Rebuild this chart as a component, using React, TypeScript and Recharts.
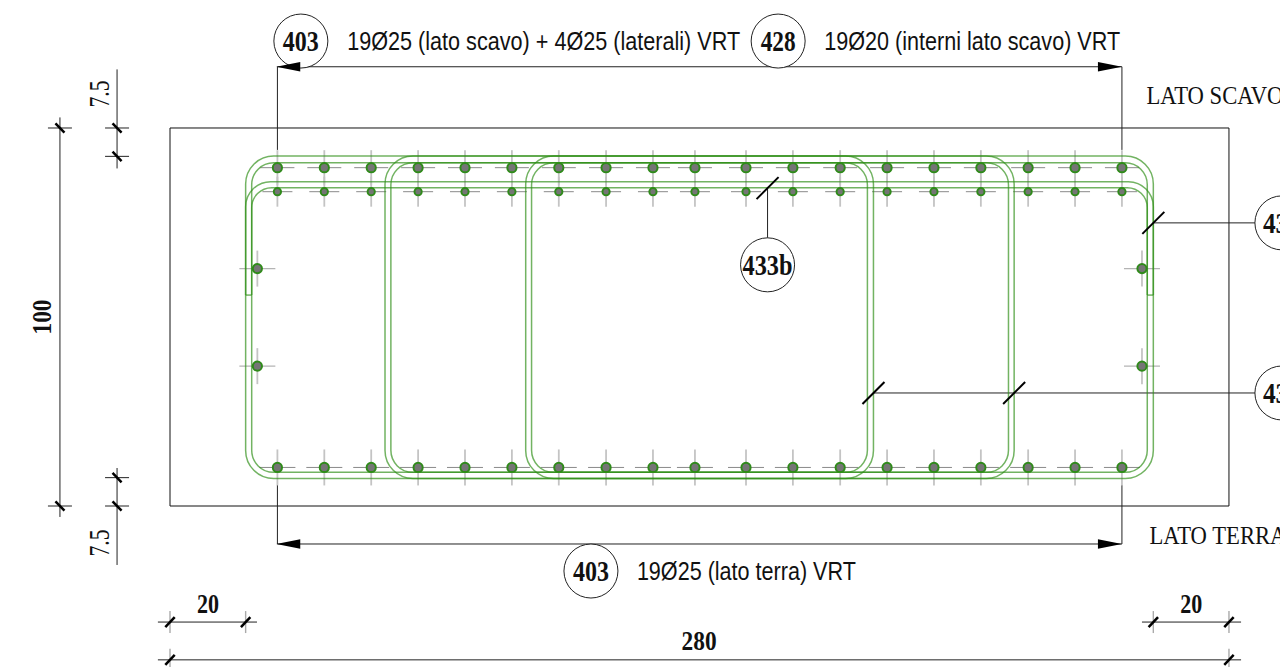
import { Scatter, ScatterChart, XAxis, YAxis } from "recharts";

type Pt = { x: number; y: number; text?: string };

// section geometry, in cm from the bottom left corner of the wall panel
const barColumns = [28.4, 40.8, 53.2, 65.6, 78, 90.4, 102.8, 115.3, 127.7, 138.8, 152.3, 164.7, 177.2, 189.6, 202, 214.4, 226.9, 239.3, 251.7];
const topRowY = 89.5;
const secondRowY = 83.15;
const bottomRowY = 10.2;
const sideBars: Pt[] = [
  { x: 23.1, y: 62.8 },
  { x: 23.1, y: 37 },
  { x: 257, y: 62.8 },
  { x: 257, y: 37 },
];

const tiesOuter = [[20, 260], [56.85, 223.2], [94.05, 186]];
const tiesInner = [[21.6, 258.4], [58.4, 221.7], [95.6, 184.4]];
const hooks: Pt[][] = [
  [{ x: 20, y: 55.8 }, { x: 21.6, y: 55.8 }],
  [{ x: 258.4, y: 55.8 }, { x: 260, y: 55.8 }],
];

const panel: Pt[] = [
  { x: 0, y: 0 },
  { x: 280, y: 0 },
  { x: 280, y: 100 },
  { x: 0, y: 100 },
  { x: 0, y: 0 },
];

const dimLines: Pt[][] = [
  [{ x: 28.4, y: 94.2 }, { x: 28.4, y: 116.2 }],
  [{ x: 251.7, y: 94.2 }, { x: 251.7, y: 116.2 }],
  [{ x: 28.4, y: 116.2 }, { x: 251.7, y: 116.2 }],
  [{ x: 28.4, y: 5.55 }, { x: 28.4, y: -10.05 }],
  [{ x: 251.7, y: 5.55 }, { x: 251.7, y: -10.05 }],
  [{ x: 28.4, y: -10.05 }, { x: 251.7, y: -10.05 }],
  [{ x: -29.1, y: 102.8 }, { x: -29.1, y: -2.9 }],
  [{ x: -14, y: 115.5 }, { x: -14, y: 89.3 }],
  [{ x: -14, y: 10.05 }, { x: -14, y: -15.6 }],
  [{ x: -3.2, y: -30.7 }, { x: 23, y: -30.7 }],
  [{ x: 257, y: -30.7 }, { x: 283.2, y: -30.7 }],
  [{ x: -3.2, y: -40.7 }, { x: 283.2, y: -40.7 }],
  [{ x: 260, y: 74.9 }, { x: 287, y: 74.9 }],
  [{ x: 186, y: 29.9 }, { x: 287, y: 29.9 }],
  [{ x: 158, y: 84.1 }, { x: 158, y: 70.6 }],
];

const verticalDimTicks: Pt[] = [
  { x: -29.1, y: 100 },
  { x: -29.1, y: 0 },
  { x: -14, y: 100 },
  { x: -14, y: 92.5 },
  { x: -14, y: 7.5 },
  { x: -14, y: 0 },
];
const horizontalDimTicks: Pt[] = [
  { x: 0, y: -30.7 },
  { x: 20, y: -30.7 },
  { x: 260, y: -30.7 },
  { x: 280, y: -30.7 },
  { x: 0, y: -40.7 },
  { x: 280, y: -40.7 },
];
const leaderTicks: Pt[] = [
  { x: 260, y: 74.9 },
  { x: 186, y: 29.9 },
  { x: 223.2, y: 29.9 },
  { x: 158, y: 84.1 },
];
const arrowsLeft: Pt[] = [{ x: 28.1, y: 116.2 }, { x: 28.1, y: -10.05 }];
const arrowsRight: Pt[] = [{ x: 251.7, y: 116.2 }, { x: 251.7, y: -10.05 }];

const markers: Pt[] = [
  { x: 34.6, y: 123, text: "403" },
  { x: 160.8, y: 123, text: "428" },
  { x: 111.3, y: -17.2, text: "403" },
  { x: 158, y: 63.8, text: "433b" },
  { x: 294, y: 74.9, text: "433" },
  { x: 294, y: 29.9, text: "433" },
];
const barNotes: Pt[] = [
  { x: 98.8, y: 123, text: "19Ø25 (lato scavo) + 4Ø25 (laterali) VRT" },
  { x: 212.1, y: 123, text: "19Ø20 (interni lato scavo) VRT" },
  { x: 152.4, y: -17.2, text: "19Ø25 (lato terra) VRT" },
];
const sideNames: Pt[] = [
  { x: 276.3, y: 108.7, text: "LATO SCAVO" },
  { x: 277.1, y: -7.7, text: "LATO TERRA" },
];
const dimValues: Pt[] = [
  { x: 10.05, y: -25.9, text: "20" },
  { x: 270, y: -25.9, text: "20" },
  { x: 139.9, y: -35.7, text: "280" },
];
const totalHeight: Pt[] = [{ x: -34.1, y: 50, text: "100" }];
const coverValues: Pt[] = [
  { x: -19, y: 109, text: "7.5" },
  { x: -19, y: -9.8, text: "7.5" },
];

const textWidths: Record<string, number> = {
  "403": 36,
  "428": 35,
  "433": 38,
  "433b": 50,
  "19Ø25 (lato scavo) + 4Ø25 (laterali) VRT": 393,
  "19Ø20 (interni lato scavo) VRT": 296,
  "19Ø25 (lato terra) VRT": 219,
  "LATO SCAVO": 137,
  "LATO TERRA": 137,
  "20": 22,
  "280": 35,
  "100": 35,
  "7.5": 27,
};

const GREEN = "#2f8f18";
const SERIF = "'Liberation Serif', serif";
const SANS = "'Liberation Sans', sans-serif";

function closedTie(l: number, r: number, t: number, b: number): Pt[] {
  const mid = (l + r) / 2;
  return [
    { x: mid, y: t },
    { x: r, y: t },
    { x: r, y: b },
    { x: l, y: b },
    { x: l, y: t },
    { x: mid, y: t },
  ];
}

function roundedPath(points: { x: number; y: number }[], r: number) {
  let d = `M${points[0].x},${points[0].y}`;
  for (let i = 1; i < points.length - 1; i++) {
    const prev = points[i - 1];
    const cur = points[i];
    const next = points[i + 1];
    const ul = Math.hypot(prev.x - cur.x, prev.y - cur.y);
    const vl = Math.hypot(next.x - cur.x, next.y - cur.y);
    const ax = cur.x + ((prev.x - cur.x) / ul) * r;
    const ay = cur.y + ((prev.y - cur.y) / ul) * r;
    const bx = cur.x + ((next.x - cur.x) / vl) * r;
    const by = cur.y + ((next.y - cur.y) / vl) * r;
    const cross = (cur.x - prev.x) * (next.y - cur.y) - (cur.y - prev.y) * (next.x - cur.x);
    d += `L${ax},${ay}A${r},${r} 0 0 ${cross > 0 ? 1 : 0} ${bx},${by}`;
  }
  const last = points[points.length - 1];
  return d + `L${last.x},${last.y}`;
}

const noSymbol = () => null;

const tieLine = (r: number) => (p: any) => (
  <path
    d={roundedPath(p.points, r)}
    fill="none"
    stroke={GREEN}
    strokeOpacity={0.68}
    strokeWidth={1.5}
  />
);

const plainLine = (color: string, width: number) => (p: any) => (
  <path d={roundedPath(p.points, 0.001)} fill="none" stroke={color} strokeWidth={width} />
);

const barShape = (r: number, h: number, v: number) => (p: any) => (
  <g>
    <line x1={p.cx} x2={p.cx} y1={p.cy - v} y2={p.cy + v} stroke="#c4c4c4" strokeWidth={1.8} />
    <line x1={p.cx - h} x2={p.cx + h} y1={p.cy} y2={p.cy} stroke="#8a8a8a" strokeWidth={1} />
    <circle cx={p.cx} cy={p.cy} r={r} fill="#757575" stroke="#2f8a1a" strokeWidth={2} />
  </g>
);

const sideBarShape = (p: any) => (
  <g>
    <line x1={p.cx} x2={p.cx} y1={p.cy - 18} y2={p.cy + 18} stroke="#c4c4c4" strokeWidth={1.8} />
    <line x1={p.cx - 18} x2={p.cx + 18} y1={p.cy} y2={p.cy} stroke="#b4b4b4" strokeWidth={1.4} />
    <circle cx={p.cx} cy={p.cy} r={4.6} fill="#757575" stroke="#2f8a1a" strokeWidth={2} />
  </g>
);

const vTick = (p: any) => (
  <g>
    <line x1={p.cx - 12} x2={p.cx + 12} y1={p.cy} y2={p.cy} stroke="#222" strokeWidth={1} />
    <line x1={p.cx - 4.5} x2={p.cx + 4.5} y1={p.cy - 4.7} y2={p.cy + 4.7} stroke="#000" strokeWidth={2.5} />
  </g>
);

const hTick = (p: any) => (
  <g>
    <line x1={p.cx} x2={p.cx} y1={p.cy - 11} y2={p.cy + 11} stroke="#aaa" strokeWidth={1.4} />
    <line x1={p.cx - 4.7} x2={p.cx + 4.7} y1={p.cy + 5} y2={p.cy - 5} stroke="#000" strokeWidth={2.5} />
  </g>
);

const leaderTick = (p: any) => (
  <line x1={p.cx - 11} x2={p.cx + 11} y1={p.cy + 11} y2={p.cy - 11} stroke="#000" strokeWidth={2} />
);

const arrow = (dir: number) => (p: any) => (
  <path d={`M${p.cx},${p.cy}L${p.cx + dir * 24},${p.cy - 4.8}L${p.cx + dir * 24},${p.cy + 4.8}Z`} fill="#000" />
);

const label = (family: string, size: number, weight: number, rotate = false) => (p: any) => {
  const t = p.payload.text as string;
  return (
    <text
      x={p.cx}
      y={p.cy}
      fontFamily={family}
      fontSize={size}
      fontWeight={weight}
      fill="#111"
      textAnchor="middle"
      dominantBaseline="central"
      textLength={textWidths[t]}
      lengthAdjust="spacingAndGlyphs"
      transform={rotate ? `rotate(-90 ${p.cx} ${p.cy})` : undefined}
    >
      {t}
    </text>
  );
};

const marker = (p: any) => (
  <g>
    <circle cx={p.cx} cy={p.cy} r={27} fill="#fff" stroke="#222" strokeWidth={1} />
    {label(SERIF, 29, 700)(p)}
  </g>
);

export default function App() {
  const tieSets = [
    ...tiesOuter.map(([l, r]) => ({ pts: closedTie(l, r, 92.6, 7.3), r: 28 })),
    ...tiesInner.map(([l, r]) => ({ pts: closedTie(l, r, 90.8, 8.9), r: 22 })),
    {
      pts: [{ x: 20, y: 55.8 }, { x: 20, y: 85.8 }, { x: 260, y: 85.8 }, { x: 260, y: 55.8 }],
      r: 25,
    },
    {
      pts: [{ x: 21.6, y: 55.8 }, { x: 21.6, y: 84.2 }, { x: 258.4, y: 84.2 }, { x: 258.4, y: 55.8 }],
      r: 20,
    },
    ...hooks.map((pts) => ({ pts, r: 0.001 })),
  ];

  return (
    <div style={{ position: "absolute", left: 0, top: 0, width: 1280, height: 667, overflow: "hidden", background: "#fff" }}>
      <ScatterChart width={1320} height={667} margin={{ top: 0, right: 0, bottom: 0, left: 0 }}>
        <XAxis type="number" dataKey="x" domain={[-44.95, 304.07]} hide />
        <YAxis type="number" dataKey="y" domain={[-42.59, 133.86]} hide />

        <Scatter data={panel} line={plainLine("#111", 1)} shape={noSymbol} isAnimationActive={false} />
        {dimLines.map((pts, i) => (
          <Scatter key={`dim${i}`} data={pts} line={plainLine("#222", 1)} shape={noSymbol} isAnimationActive={false} />
        ))}

        <Scatter data={barColumns.map((x) => ({ x, y: topRowY }))} shape={barShape(4.6, 17, 17.5)} isAnimationActive={false} />
        <Scatter data={barColumns.map((x) => ({ x, y: secondRowY }))} shape={barShape(3.6, 15, 15)} isAnimationActive={false} />
        <Scatter data={barColumns.map((x) => ({ x, y: bottomRowY }))} shape={barShape(4.6, 18, 18)} isAnimationActive={false} />
        <Scatter data={sideBars} shape={sideBarShape} isAnimationActive={false} />

        {tieSets.map((t, i) => (
          <Scatter key={`tie${i}`} data={t.pts} line={tieLine(t.r)} shape={noSymbol} isAnimationActive={false} />
        ))}

        <Scatter data={verticalDimTicks} shape={vTick} isAnimationActive={false} />
        <Scatter data={horizontalDimTicks} shape={hTick} isAnimationActive={false} />
        <Scatter data={leaderTicks} shape={leaderTick} isAnimationActive={false} />

        <Scatter data={markers} shape={marker} isAnimationActive={false} />
        <Scatter data={arrowsLeft} shape={arrow(1)} isAnimationActive={false} />
        <Scatter data={arrowsRight} shape={arrow(-1)} isAnimationActive={false} />

        <Scatter data={barNotes} shape={label(SANS, 26, 400)} isAnimationActive={false} />
        <Scatter data={sideNames} shape={label(SERIF, 26, 400)} isAnimationActive={false} />
        <Scatter data={dimValues} shape={label(SERIF, 28, 700)} isAnimationActive={false} />
        <Scatter data={totalHeight} shape={label(SERIF, 28, 700, true)} isAnimationActive={false} />
        <Scatter data={coverValues} shape={label(SERIF, 30, 400, true)} isAnimationActive={false} />
      </ScatterChart>
    </div>
  );
}
